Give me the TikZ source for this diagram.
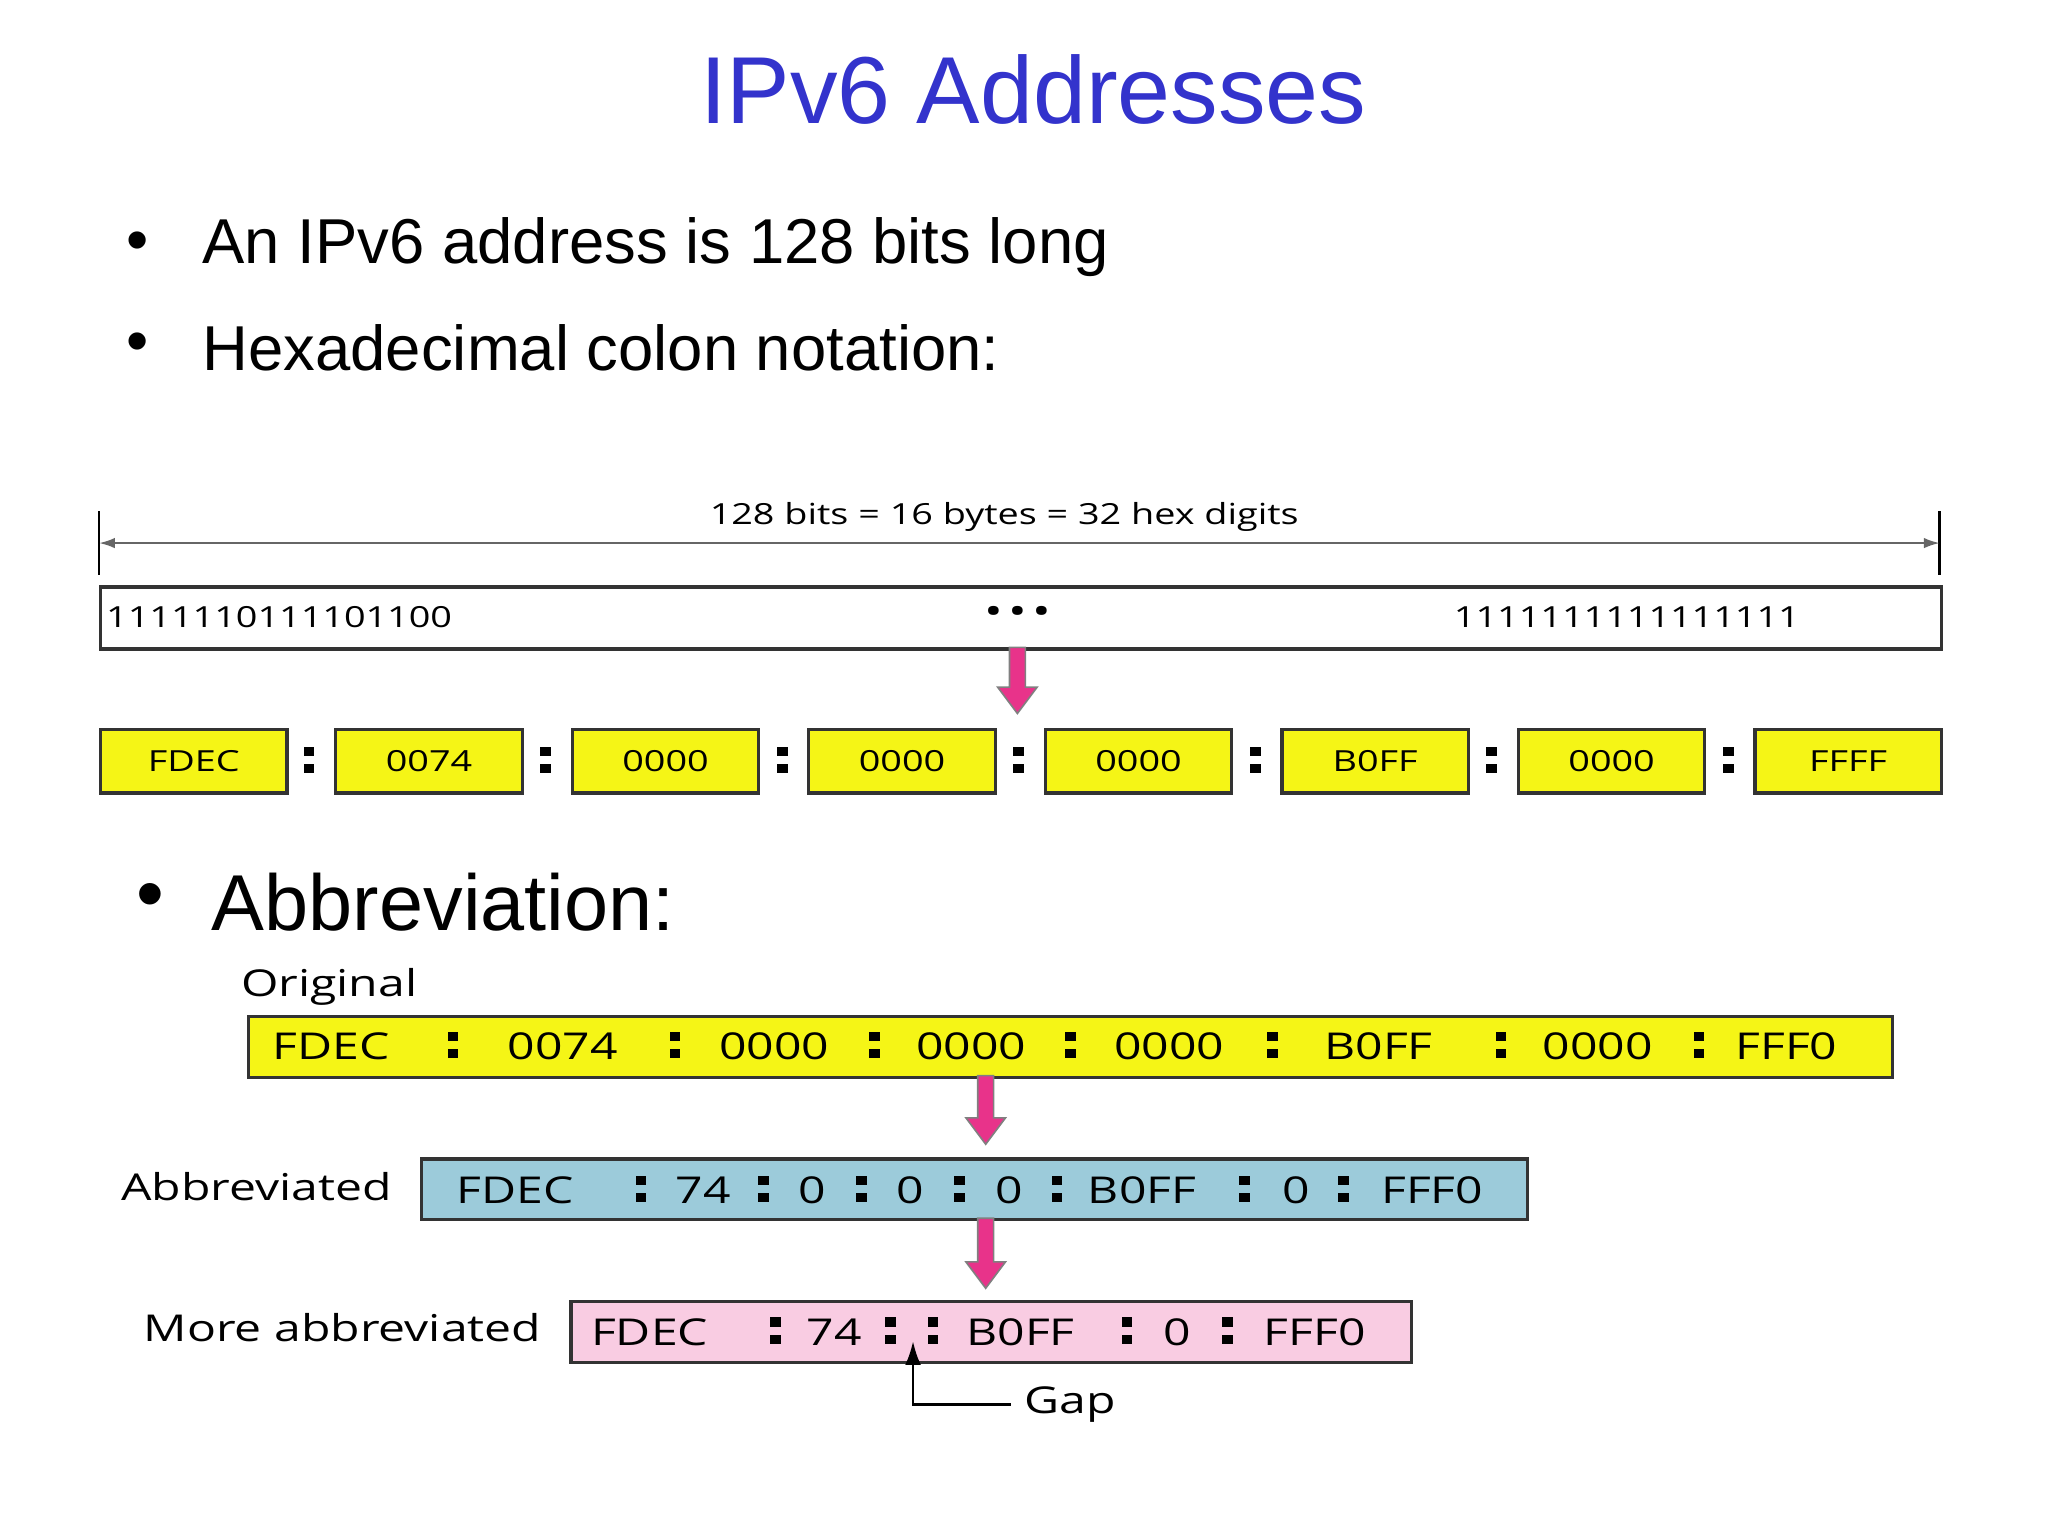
\documentclass[tikz,border=0pt]{standalone}
\usepackage{fontspec}
\setmainfont{Liberation Sans}
\newfontfamily\dfont{Open Sans}[FakeStretch=1.3]
\usetikzlibrary{arrows.meta}
\definecolor{ttl}{HTML}{3333CC}
\definecolor{ylw}{HTML}{F5F516}
\definecolor{blu}{HTML}{9CCBDA}
\definecolor{pnk}{HTML}{F9CCE2}
\definecolor{mag}{HTML}{E8338A}
\tikzset{
 box/.style={draw=black!80,line width=1.2pt,anchor=north west,inner sep=0pt},
 t1/.style={font=\dfont\fontsize{11}{13}\selectfont,inner sep=0pt,anchor=west},
 t2/.style={font=\dfont\fontsize{14}{16}\selectfont,inner sep=0pt,anchor=west},
 bul/.style={font=\fontsize{24}{28}\selectfont,inner sep=0pt,anchor=west}
}
\newcommand\colsq[2]{\fill (#1-4,#2-10) rectangle (#1+4,#2-3); \fill (#1-4,#2+3) rectangle (#1+4,#2+10);}
\newcommand\blockarrow[3]{\filldraw[fill=mag,draw=black!50,line width=0.6pt] (#1-6,#2) -- (#1+6,#2) -- (#1+6,#3-20) -- (#1+15,#3-20) -- (#1,#3) -- (#1-15,#3-20) -- (#1-6,#3-20) -- cycle;}
\begin{document}
\begin{tikzpicture}[x=0.5pt,y=-0.5pt]
\useasboundingbox (0,0) rectangle (1550,1162);
\node[text=ttl,font=\fontsize{36}{40}\selectfont,inner sep=0pt] (title) at (782,68) {IPv6 Addresses};
\node[bul] (b1d) at (95,187) {•};
\node[bul] (b1) at (153,187) {An IPv6 address is 128 bits long};
\node[bul] (b2d) at (95,263) {•};
\node[bul] (b2) at (153,263) {Hexadecimal colon notation:};
\node[bul,font=\fontsize{30}{34}\selectfont] (b3d) at (103,683) {•};
\node[bul,font=\fontsize{30}{34}\selectfont] (b3) at (160,683) {Abbreviation:};
% dimension
\coordinate (dl) at (75,411); \coordinate (dr) at (1468,411);
\draw[line width=1pt] (75,387) -- (75,435);
\draw[line width=1pt] (1468,387) -- (1468,435);
\draw[black!60,line width=0.8pt,{Latex[length=6pt,width=4pt]}-{Latex[length=6pt,width=4pt]}] (dl) -- (dr);
\node[t1,anchor=center] (dim) at (760,391) {128 bits = 16 bytes = 32 hex digits};
\node[box,minimum width=1393*0.5pt,minimum height=47*0.5pt] (bits) at (75,443) {};
\node[t1] (bl) at (80,467) {1111110111101100};
\node[t1,anchor=center] (bd) at (770,465) {\textbf{• • •}};
\node[t1] (br) at (1100,467) {1111111111111111};
\blockarrow{770}{490}{540}
\foreach \x/\t [count=\i] in {75/FDEC,253/0074,432/0000,611/0000,790/0000,969/B0FF,1148/0000,1327/FFFF}{
 \node[box,fill=ylw,minimum width=141*0.5pt,minimum height=48*0.5pt] (y\i) at (\x,551) {};
 \node[t1,anchor=center] (yt\i) at (y\i.center) {\t};
}
\foreach \x in {234,413,592,771,950,1129,1308}{\colsq{\x}{575}}
% original
\node[t2,anchor=west] (lo) at (182,747) {Original};
\node[box,fill=ylw,minimum width=1244*0.5pt,minimum height=46*0.5pt] (orig) at (187,768) {};
\foreach \x/\t [count=\i] in {206/FDEC,384/0074,544/0000,693/0000,843/0000,1002/B0FF,1167/0000,1313/FFF0}{\node[t2] (ot\i) at (\x,792) {\t};}
\foreach \x in {343,511,662,810,963,1136,1286}{\colsq{\x}{791}}
\blockarrow{746}{814}{866}
% abbreviated
\node[t2,anchor=east] (la) at (297,898) {Abbreviated};
\node[box,fill=blu,minimum width=837*0.5pt,minimum height=46*0.5pt] (abbr) at (318,876) {};
\foreach \x/\t [count=\i] in {345/FDEC,511/74,604/0,678/0,753/0,823/B0FF,970/0,1045/FFF0}{\node[t2] (at\i) at (\x,901) {\t};}
\foreach \x in {485,578,652,726,800,942,1017}{\colsq{\x}{900}}
\blockarrow{746}{922}{975}
% more abbreviated
\node[t2,anchor=east] (lm) at (410,1005) {More abbreviated};
\node[box,fill=pnk,minimum width=636*0.5pt,minimum height=46*0.5pt] (more) at (431,984) {};
\foreach \x/\t [count=\i] in {447/FDEC,610/74,731/B0FF,880/0,956/FFF0}{\node[t2] (mt\i) at (\x,1008) {\t};}
\foreach \x in {587,674,706,853,929}{\colsq{\x}{1007}}
\node[t2] (gap) at (775,1063) {Gap};
\coordinate (gp) at (691,1015);
\draw[line width=1pt,-{Latex[length=9pt,width=6pt]}] (gap.west) ++(-10,0) -- (691,1063) -- (gp);
\end{tikzpicture}
\end{document}
